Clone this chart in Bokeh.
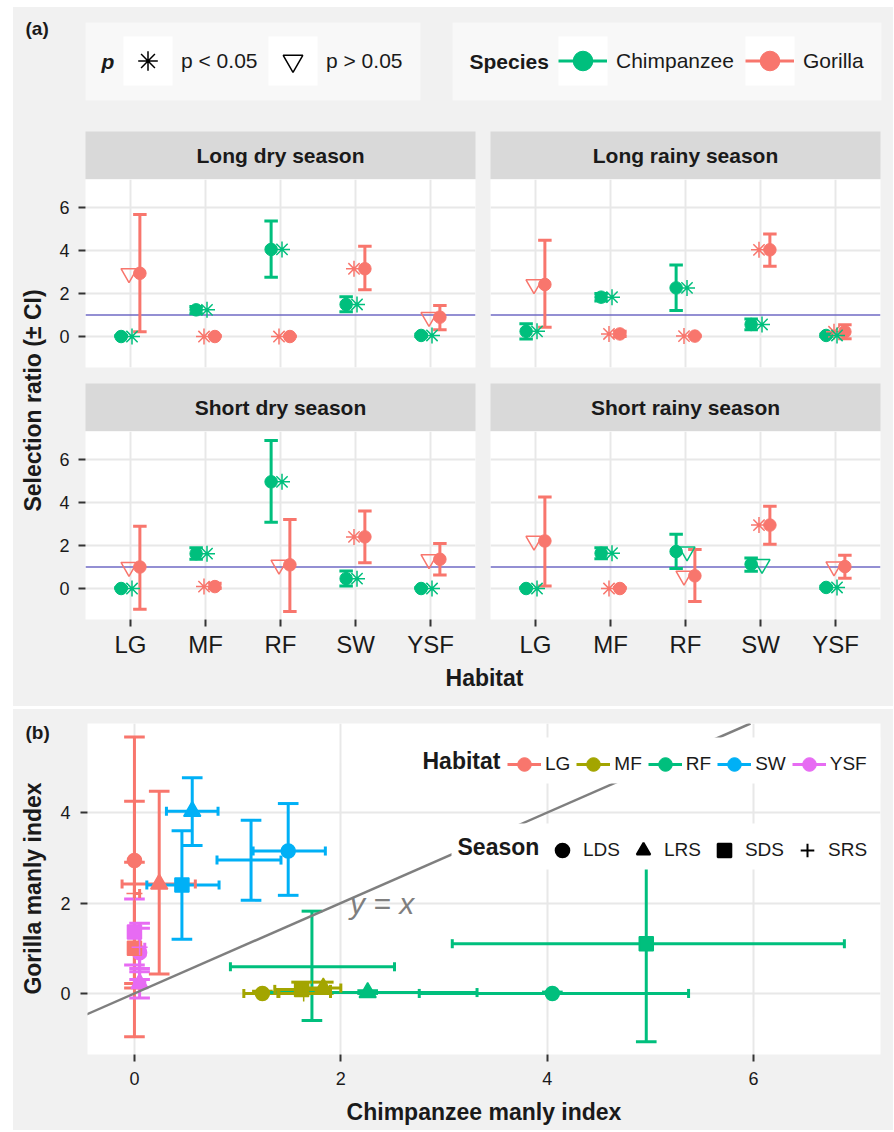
from math import pi
import numpy as np
from bokeh.plotting import figure
from bokeh.models import (ColumnDataSource, Range1d, FixedTicker, Label, Legend, LegendItem,
                          BoxAnnotation, Slope, Span, Spacer, Grid)
from bokeh.layouts import column, row
from bokeh.embed import file_html
from bokeh.resources import INLINE

# ---------------- data ----------------
habitats = ["LG", "MF", "RF", "SW", "YSF"]
season_codes = ["LDS", "LRS", "SDS", "SRS"]
season_names = ["Long dry season", "Long rainy season", "Short dry season", "Short rainy season"]

# Chimpanzee selection ratio (manly index), lower / upper CI, significance (True: p < 0.05)
chimp_lds = [0.00, 1.24, 4.05, 1.49, 0.05]
chimp_lds_lo = [0.00, 1.06, 2.76, 1.15, 0.00]
chimp_lds_hi = [0.05, 1.40, 5.37, 1.85, 0.10]
chimp_lds_sig = [True, True, True, True, True]

chimp_lrs = [0.24, 1.83, 2.26, 0.56, 0.05]
chimp_lrs_lo = [-0.12, 1.65, 1.21, 0.31, 0.00]
chimp_lrs_hi = [0.59, 2.00, 3.32, 0.81, 0.10]
chimp_lrs_sig = [True, True, True, True, True]

chimp_sds = [0.00, 1.62, 4.96, 0.46, 0.00]
chimp_sds_lo = [0.00, 1.36, 3.08, 0.12, 0.00]
chimp_sds_hi = [0.05, 1.90, 6.88, 0.82, 0.05]
chimp_sds_sig = [True, True, True, True, True]

chimp_srs = [0.00, 1.64, 1.72, 1.13, 0.05]
chimp_srs_lo = [0.00, 1.39, 0.93, 0.80, 0.00]
chimp_srs_hi = [0.05, 1.90, 2.52, 1.42, 0.10]
chimp_srs_sig = [True, True, False, False, True]

# Gorilla
gor_lds = [2.94, 0.00, 0.00, 3.15, 0.90]
gor_lds_lo = [0.22, 0.00, 0.00, 2.17, 0.31]
gor_lds_hi = [5.67, 0.05, 0.03, 4.20, 1.44]
gor_lds_sig = [False, True, True, True, False]

gor_lrs = [2.42, 0.12, 0.02, 4.03, 0.22]
gor_lrs_lo = [0.43, 0.00, 0.00, 3.27, -0.10]
gor_lrs_hi = [4.47, 0.25, 0.06, 4.77, 0.55]
gor_lrs_sig = [False, True, True, True, True]

gor_sds = [1.00, 0.09, 1.10, 2.40, 1.36]
gor_sds_lo = [-0.96, 0.00, -1.07, 1.20, 0.63]
gor_sds_hi = [2.90, 0.25, 3.21, 3.60, 2.09]
gor_sds_sig = [False, True, False, True, False]

gor_srs = [2.21, 0.00, 0.59, 2.95, 1.02]
gor_srs_lo = [0.12, 0.00, -0.60, 2.06, 0.48]
gor_srs_hi = [4.25, 0.05, 1.82, 3.83, 1.55]
gor_srs_sig = [False, True, False, True, False]

DATA = {
    ("Chimpanzee", "LDS"): (chimp_lds, chimp_lds_lo, chimp_lds_hi, chimp_lds_sig),
    ("Chimpanzee", "LRS"): (chimp_lrs, chimp_lrs_lo, chimp_lrs_hi, chimp_lrs_sig),
    ("Chimpanzee", "SDS"): (chimp_sds, chimp_sds_lo, chimp_sds_hi, chimp_sds_sig),
    ("Chimpanzee", "SRS"): (chimp_srs, chimp_srs_lo, chimp_srs_hi, chimp_srs_sig),
    ("Gorilla", "LDS"): (gor_lds, gor_lds_lo, gor_lds_hi, gor_lds_sig),
    ("Gorilla", "LRS"): (gor_lrs, gor_lrs_lo, gor_lrs_hi, gor_lrs_sig),
    ("Gorilla", "SDS"): (gor_sds, gor_sds_lo, gor_sds_hi, gor_sds_sig),
    ("Gorilla", "SRS"): (gor_srs, gor_srs_lo, gor_srs_hi, gor_srs_sig),
}

# ---------------- style ----------------
FONT = "Liberation Sans"
BG = "#F1F1F1"
LEGBG = "#F8F8F8"
STRIP = "#D9D9D9"
GRID = "#E8E8E8"
TXT = "#1A1A1A"
REFLINE = "#6F6AC4"
SPECIES_COL = {"Chimpanzee": "#00BF7D", "Gorilla": "#F8766D"}
HAB_COL = ["#F8766D", "#A3A500", "#00BF7D", "#00B0F6", "#E76BF3"]
SEASON_MARK = {"LDS": "circle", "LRS": "triangle", "SDS": "square", "SRS": "cross"}
SEASON_SIZE = {"LDS": 14, "LRS": 17, "SDS": 14, "SRS": 16}
NAN = np.array([np.nan])


def base_fig(width, height, xr, yr, mbl=0, mbr=0, mbt=0, mbb=0, xaxis=None, yaxis=None, frame_color=BG):
    p = figure(width=width, height=height, x_range=xr, y_range=yr,
               x_axis_location=xaxis, y_axis_location=yaxis,
               output_backend="svg", toolbar_location=None,
               min_border_left=mbl, min_border_right=mbr, min_border_top=mbt, min_border_bottom=mbb)
    p.center = [c for c in p.center if not isinstance(c, Grid)]
    p.background_fill_color = frame_color
    p.border_fill_color = BG
    p.outline_line_color = None
    return p


def style_axis(ax, size, standoff):
    ax.axis_line_color = None
    ax.major_tick_line_color = "#333333"
    ax.major_tick_line_width = 2
    ax.major_tick_out = 7
    ax.major_tick_in = 0
    ax.minor_tick_line_color = None
    ax.major_label_text_font = FONT
    ax.major_label_text_font_size = size
    ax.major_label_text_color = TXT
    ax.major_label_standoff = standoff


def add_grid(p, xt, yt):
    p.add_layout(Grid(dimension=0, ticker=FixedTicker(ticks=xt), grid_line_color=GRID, grid_line_width=2))
    p.add_layout(Grid(dimension=1, ticker=FixedTicker(ticks=yt), grid_line_color=GRID, grid_line_width=2))


def text_label(x, y, text, size, style="normal", align="left", angle=0.0, color=TXT):
    return Label(x=x, y=y, text=text, text_align=align, text_baseline="middle", angle=angle,
                 text_font=FONT, text_font_size=size, text_font_style=style, text_color=color)


# page geometry: content x 13..893, y 7..1130
X0 = 13
W = 880

# ---------------- panel (a) ----------------
xcat = np.arange(1, len(habitats) + 1, dtype=float)
GEO_L = dict(width=434, mbl=37, mbr=7)      # page x 48..482, frame 85..475
GEO_R = dict(width=411, mbl=8, mbr=13)      # page x 482..893, frame 490..880


def strip(text, geo):
    s = base_fig(geo["width"], 48, Range1d(0, 1), Range1d(0, 1), mbl=geo["mbl"], mbr=geo["mbr"],
                 frame_color=STRIP)
    s.add_layout(text_label(0.5, 0.5, text, "21px", "bold", "center"))
    return s


def facet(code, geo, left, bottom):
    height = 229 if bottom else 204
    mbb = 41 if bottom else 16
    p = base_fig(geo["width"], height, Range1d(0.4, 5.6), Range1d(-1.44, 7.30),
                 mbl=geo["mbl"], mbr=geo["mbr"], mbb=mbb,
                 xaxis="below" if bottom else None, yaxis="left" if left else None,
                 frame_color="white")
    add_grid(p, list(xcat), [0, 2, 4, 6])
    p.add_layout(Span(location=1, dimension="width", line_color=REFLINE, line_width=1.5, level="underlay"))
    if left:
        p.yaxis.ticker = FixedTicker(ticks=[0, 2, 4, 6])
        style_axis(p.yaxis[0], "18px", 9)
    if bottom:
        p.xaxis.ticker = FixedTicker(ticks=list(xcat))
        p.xaxis.major_label_overrides = {int(i + 1): h for i, h in enumerate(habitats)}
        style_axis(p.xaxis[0], "24px", 4)

    srcs = {}
    for sp, dx, dm in (("Chimpanzee", -0.125, 0.02), ("Gorilla", 0.125, -0.02)):
        r, lo, hi, sig = DATA[(sp, code)]
        x = xcat + dx
        srcs[sp] = ColumnDataSource(dict(
            x=x, r=r, lo=lo, hi=hi, cl=x - 0.09, cr=x + 0.09, xm=xcat + dm,
            marker=["asterisk" if s else "inverted_triangle" for s in sig]))
    for sp in ("Chimpanzee", "Gorilla"):
        c = SPECIES_COL[sp]
        src = srcs[sp]
        p.segment(x0="x", y0="lo", x1="x", y1="hi", source=src, line_color=c, line_width=3)
        p.segment(x0="cl", y0="lo", x1="cr", y1="lo", source=src, line_color=c, line_width=3)
        p.segment(x0="cl", y0="hi", x1="cr", y1="hi", source=src, line_color=c, line_width=3)
    for sp in ("Chimpanzee", "Gorilla"):
        c = SPECIES_COL[sp]
        p.scatter(x="x", y="r", source=srcs[sp], marker="circle", size=12.5, fill_color=c, line_color=c)
    for sp in ("Gorilla", "Chimpanzee"):
        c = SPECIES_COL[sp]
        p.scatter(x="xm", y="r", source=srcs[sp], marker="marker", size=16,
                  fill_color=None, line_color=c, line_width=1.5)
    return p


# header (legends): page y 7..131
HH = 124
hdr = base_fig(W, HH, Range1d(0, W), Range1d(0, HH))


def hx(px):
    return px - X0


def hy(py):
    return 131 - py


hdr.add_layout(text_label(hx(25), hy(28), "(a)", "19px", "bold"))
for l, r_ in ((85, 420), (452, 881)):
    hdr.add_layout(BoxAnnotation(left=hx(l), right=hx(r_), top=hy(22), bottom=hy(100),
                                 fill_color=LEGBG, fill_alpha=1, line_color=None))
GW = 49
p_key_left = [123, 123 + GW + 9 + 78 + 9]
sp_key_left = [558, 558 + GW + 9 + 120 + 9]
for kl in p_key_left + sp_key_left:
    hdr.add_layout(BoxAnnotation(left=hx(kl), right=hx(kl + GW), top=hy(36), bottom=hy(36 + GW),
                                 fill_color="white", fill_alpha=1, line_color=None))
hdr.add_layout(text_label(hx(101), hy(61), "p", "21px", "bold italic"))
hdr.add_layout(text_label(hx(469), hy(61), "Species", "21px", "bold"))

r_ast = hdr.scatter(x=NAN, y=NAN, marker="asterisk", size=16, line_color="black", line_width=1.5)
r_tri = hdr.scatter(x=NAN, y=NAN, marker="inverted_triangle", size=16, line_color="black",
                    fill_color=None, line_width=1.5)
hleg_kw = dict(orientation="horizontal", glyph_width=GW, glyph_height=GW, label_standoff=9, spacing=9,
               padding=0, margin=0, background_fill_color=None, border_line_color=None,
               label_text_font=FONT, label_text_font_size="21px", label_text_color=TXT)
leg_p = Legend(items=[LegendItem(label="p < 0.05", renderers=[r_ast]),
                      LegendItem(label="p > 0.05", renderers=[r_tri])],
               location=(hx(p_key_left[0]), hy(36 + GW)), label_width=78, **hleg_kw)
sp_items = []
for sp in ("Chimpanzee", "Gorilla"):
    c = SPECIES_COL[sp]
    rl = hdr.line(x=NAN, y=NAN, line_color=c, line_width=3)
    rc = hdr.scatter(x=NAN, y=NAN, marker="circle", size=14, fill_color=c, line_color=c)
    sp_items.append(LegendItem(label=sp, renderers=[rl, rc]))
leg_sp = Legend(items=sp_items, location=(hx(sp_key_left[0]), hy(36 + GW)), label_width=120, **hleg_kw)
hdr.add_layout(leg_p)
hdr.add_layout(leg_sp)

# y-axis title for panel (a): page x 13..48, y 131..660
ylab = base_fig(35, 529, Range1d(0, 35), Range1d(0, 529))
ylab.add_layout(text_label(32 - X0, 660 - 400, "Selection ratio (\u00b1 CI)", "23px", "bold", "center",
                           angle=pi / 2))

top_strips = row(strip(season_names[0], GEO_L), strip(season_names[1], GEO_R), spacing=0)
top_facets = row(facet("LDS", GEO_L, True, False), facet("LRS", GEO_R, False, False), spacing=0)
bot_strips = row(strip(season_names[2], GEO_L), strip(season_names[3], GEO_R), spacing=0)
bot_facets = row(facet("SDS", GEO_L, True, True), facet("SRS", GEO_R, False, True), spacing=0)
facets = column(top_strips, top_facets, bot_strips, bot_facets, spacing=0)
middle = row(ylab, facets, spacing=0, styles={"background-color": BG})

# x-axis title for panel (a): page y 660..706
foot = base_fig(W, 46, Range1d(0, W), Range1d(0, 46))
foot.add_layout(text_label(hx(484), 706 - 677, "Habitat", "23px", "bold", "center"))

panel_a = column(hdr, middle, foot, spacing=0, styles={"background-color": BG})

# ---------------- panel (b) ----------------
rows = dict(cx=[], cxlo=[], cxhi=[], gy=[], gylo=[], gyhi=[], color=[], marker=[], size=[])
for code in season_codes:
    cr, clo, chi, _ = DATA[("Chimpanzee", code)]
    gr, glo, ghi, _ = DATA[("Gorilla", code)]
    for i in range(len(habitats)):
        rows["cx"].append(cr[i]); rows["cxlo"].append(clo[i]); rows["cxhi"].append(chi[i])
        rows["gy"].append(gr[i]); rows["gylo"].append(glo[i]); rows["gyhi"].append(ghi[i])
        rows["color"].append(HAB_COL[i]); rows["marker"].append(SEASON_MARK[code])
        rows["size"].append(SEASON_SIZE[code])
for k in ("cx", "gy"):
    rows[k] = np.array(rows[k])
rows["vcl"] = rows["cx"] - 0.1
rows["vcr"] = rows["cx"] + 0.1
rows["hcb"] = rows["gy"] - 0.1
rows["hct"] = rows["gy"] + 0.1
bsrc = ColumnDataSource(rows)

PB_H = 421              # page y 709..1130, frame 723..1054
MBT, MBB = 14, 76
FR_H = PB_H - MBT - MBB  # 331
# left strip with "(b)" and y title: page x 13..57 (its frame aligned with panel b's frame rows)
bl = base_fig(44, PB_H, Range1d(0, 44), Range1d(0, FR_H), mbt=MBT, mbb=MBB)
bl.add_layout(text_label(25 - X0, 1054 - 732, "(b)", "19px", "bold"))
bl.add_layout(text_label(32 - X0, 1054 - 888, "Gorilla manly index", "23px", "bold", "center", angle=pi / 2))

pb = base_fig(836, PB_H, Range1d(-0.455, 7.23), Range1d(-1.35, 5.97), mbl=28, mbr=13, mbt=MBT, mbb=MBB,
              xaxis="below", yaxis="left", frame_color="white")
add_grid(pb, [0, 2, 4, 6], [0, 2, 4])
pb.xaxis.ticker = FixedTicker(ticks=[0, 2, 4, 6])
pb.yaxis.ticker = FixedTicker(ticks=[0, 2, 4])
style_axis(pb.xaxis[0], "18px", 10)
style_axis(pb.yaxis[0], "18px", 10)
ax = pb.xaxis[0]
ax.axis_label = "Chimpanzee manly index"
ax.axis_label_text_font = FONT
ax.axis_label_text_font_size = "23px"
ax.axis_label_text_font_style = "bold"
ax.axis_label_text_color = TXT
ax.axis_label_standoff = 11

# vertical (gorilla CI) error bars
pb.segment(x0="cx", y0="gylo", x1="cx", y1="gyhi", source=bsrc, line_color="color", line_width=3)
pb.segment(x0="vcl", y0="gylo", x1="vcr", y1="gylo", source=bsrc, line_color="color", line_width=3)
pb.segment(x0="vcl", y0="gyhi", x1="vcr", y1="gyhi", source=bsrc, line_color="color", line_width=3)
# horizontal (chimpanzee CI) error bars
pb.segment(x0="cxlo", y0="gy", x1="cxhi", y1="gy", source=bsrc, line_color="color", line_width=3)
pb.segment(x0="cxlo", y0="hcb", x1="cxlo", y1="hct", source=bsrc, line_color="color", line_width=3)
pb.segment(x0="cxhi", y0="hcb", x1="cxhi", y1="hct", source=bsrc, line_color="color", line_width=3)
pb.scatter(x="cx", y="gy", source=bsrc, marker="marker", size="size", fill_color="color",
           line_color="color", line_width=1.5)

pb.add_layout(Slope(gradient=1, y_intercept=0, line_color="#7F7F7F", line_width=2.5))
pb.add_layout(text_label(2.4, 2.0, "y = x", "30px", "italic", "center", color="#7F7F7F"))


def sx(px):
    return px - 85


def sy(py):
    return 1054 - py


for l, r_, t, b in ((414, 878, 737, 783), (449, 878, 823, 869)):
    pb.add_layout(BoxAnnotation(left=sx(l), right=sx(r_), top=sy(t), bottom=sy(b),
                                left_units="screen", right_units="screen",
                                top_units="screen", bottom_units="screen",
                                fill_color="white", fill_alpha=1, line_color=None))
lab_h = text_label(sx(420), sy(760), "Habitat", "23px", "bold")
lab_s = text_label(sx(455), sy(846), "Season", "23px", "bold")
for lab in (lab_h, lab_s):
    lab.x_units = "screen"
    lab.y_units = "screen"
    pb.add_layout(lab)

hab_items = []
for i, h in enumerate(habitats):
    rl = pb.line(x=NAN, y=NAN, line_color=HAB_COL[i], line_width=3)
    rc = pb.scatter(x=NAN, y=NAN, marker="circle", size=14, fill_color=HAB_COL[i], line_color=HAB_COL[i])
    hab_items.append(LegendItem(label=h, renderers=[rl, rc]))
sea_items = []
for code in season_codes:
    rs = pb.scatter(x=NAN, y=NAN, marker=SEASON_MARK[code], size=14, fill_color="black",
                    line_color="black", line_width=2)
    sea_items.append(LegendItem(label=code, renderers=[rs]))
leg_kw = dict(orientation="horizontal", glyph_width=34, glyph_height=34, label_standoff=4, spacing=6,
              padding=4, margin=0, background_fill_color="white", border_line_color=None,
              label_text_font=FONT, label_text_font_size="19px", label_text_color=TXT)
pb.add_layout(Legend(items=hab_items, location=(sx(505), sy(781)), **leg_kw))
pb.add_layout(Legend(items=sea_items, location=(sx(543), sy(867)), **leg_kw))

panel_b = row(bl, pb, spacing=0, styles={"background-color": BG})
content = column(panel_a, Spacer(width=W, height=3), panel_b, spacing=0)
layout = column(Spacer(width=W, height=7), row(Spacer(width=X0, height=10), content, spacing=0), spacing=0)

with open("out.html", "w") as f:
    f.write(file_html(layout, INLINE))
